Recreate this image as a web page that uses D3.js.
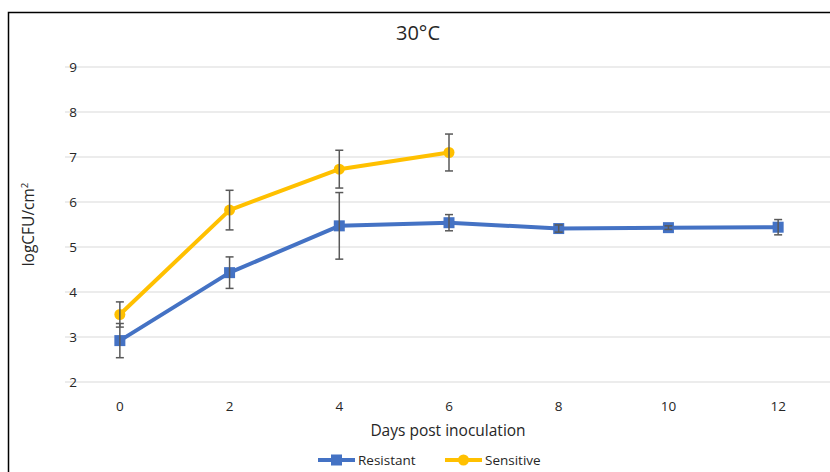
<!DOCTYPE html>
<html>
<head>
<meta charset="utf-8">
<script src="https://cdn.jsdelivr.net/npm/d3@7"></script>
<style>
  body { margin: 0; background: #fff; }
  text { font-family: "Open Sans", "Noto Sans", sans-serif; fill: #262626; }
</style>
</head>
<body>
<div id="chart"></div>
<script>
// days on the x axis
const days = [0, 2, 4, 6, 8, 10, 12]
const yTicks = [2, 3, 4, 5, 6, 7, 8, 9]

const resistantMean = [2.92, 4.43, 5.47, 5.54, 5.41, 5.43, 5.44]
const resistantErr = [0.38, 0.35, 0.74, 0.18, 0.08, 0.04, 0.17]
const sensitiveMean = [3.5, 5.82, 6.73, 7.1]
const sensitiveErr = [0.28, 0.44, 0.42, 0.41]

const width = 830
const height = 472
const margin = { top: 67, right: -3, bottom: 90, left: 65 }

const svg = d3.select('#chart').append('svg')
  .attr('width', width)
  .attr('height', height)

// outer frame (only left and top are inside the picture)
svg.append('rect')
  .attr('x', 8.5).attr('y', 12.5)
  .attr('width', width + 20).attr('height', height + 20)
  .attr('fill', 'none')
  .attr('stroke', '#000')
  .attr('stroke-width', 1.5)

const x = d3.scaleBand()
  .domain(days)
  .range([margin.left, width - margin.right])

const y = d3.scaleLinear()
  .domain([2, 9])
  .range([height - margin.bottom, margin.top])

const cx = (d) => x(d) + x.bandwidth() / 2

// grid
svg.append('g')
  .selectAll('line')
  .data(yTicks)
  .join('line')
  .attr('x1', margin.left)
  .attr('x2', width - margin.right)
  .attr('y1', (d) => y(d))
  .attr('y2', (d) => y(d))
  .attr('stroke', '#d9d9d9')
  .attr('stroke-width', 1)

// y tick labels
svg.append('g')
  .selectAll('text')
  .data(yTicks)
  .join('text')
  .attr('x', 77)
  .attr('y', (d) => y(d))
  .attr('dy', '0.35em')
  .attr('text-anchor', 'end')
  .attr('font-size', 13.5)
  .attr('fill', '#595959')
  .text((d) => d)

// x tick labels
svg.append('g')
  .selectAll('text')
  .data(days)
  .join('text')
  .attr('x', (d) => cx(d))
  .attr('y', 411)
  .attr('text-anchor', 'middle')
  .attr('font-size', 13.5)
  .attr('fill', '#595959')
  .text((d) => d)

// titles
svg.append('text')
  .attr('x', 418).attr('y', 40)
  .attr('text-anchor', 'middle')
  .attr('font-size', 20)
  .text('30°C')

svg.append('text')
  .attr('x', 448).attr('y', 436)
  .attr('text-anchor', 'middle')
  .attr('font-size', 15.5)
  .text('Days post inoculation')

svg.append('text')
  .attr('transform', `translate(34 ${y(5.5)}) rotate(-90)`)
  .attr('text-anchor', 'middle')
  .attr('font-size', 15.5)
  .text('logCFU/cm')
  .append('tspan')
  .attr('dy', -6)
  .attr('font-size', 9.5)
  .text('2')

const series = [
  { name: 'Resistant', mean: resistantMean, err: resistantErr, color: '#4472c4', shape: 'square' },
  { name: 'Sensitive', mean: sensitiveMean, err: sensitiveErr, color: '#ffc000', shape: 'circle' },
]

const line = d3.line()
  .x((d) => cx(d.day))
  .y((d) => y(d.v))

series.forEach((s) => {
  const pts = s.mean.map((v, i) => ({ day: days[i], v: v, e: s.err[i] }))
  const g = svg.append('g')

  g.append('path')
    .datum(pts)
    .attr('d', line)
    .attr('fill', 'none')
    .attr('stroke', s.color)
    .attr('stroke-width', 4)
    .attr('stroke-linejoin', 'round')

  if (s.shape === 'square') {
    g.selectAll('rect')
      .data(pts)
      .join('rect')
      .attr('x', (d) => cx(d.day) - 5.5)
      .attr('y', (d) => y(d.v) - 5.5)
      .attr('width', 11)
      .attr('height', 11)
      .attr('fill', s.color)
  } else {
    g.selectAll('circle')
      .data(pts)
      .join('circle')
      .attr('cx', (d) => cx(d.day))
      .attr('cy', (d) => y(d.v))
      .attr('r', 5.5)
      .attr('fill', s.color)
  }

  // error bars
  const eb = g.selectAll('g.err')
    .data(pts)
    .join('g')
    .attr('class', 'err')
    .attr('stroke', '#595959')
    .attr('stroke-width', 1.5)
  eb.append('line')
    .attr('x1', (d) => cx(d.day)).attr('x2', (d) => cx(d.day))
    .attr('y1', (d) => y(d.v + d.e)).attr('y2', (d) => y(d.v - d.e))
  eb.append('line')
    .attr('x1', (d) => cx(d.day) - 4).attr('x2', (d) => cx(d.day) + 4)
    .attr('y1', (d) => y(d.v + d.e)).attr('y2', (d) => y(d.v + d.e))
  eb.append('line')
    .attr('x1', (d) => cx(d.day) - 4).attr('x2', (d) => cx(d.day) + 4)
    .attr('y1', (d) => y(d.v - d.e)).attr('y2', (d) => y(d.v - d.e))
})

// legend
const legend = svg.append('g').attr('transform', 'translate(318 460)')
series.forEach((s, i) => {
  const lg = legend.append('g').attr('transform', `translate(${i * 127} 0)`)
  lg.append('line')
    .attr('x1', 0).attr('x2', 37)
    .attr('stroke', s.color)
    .attr('stroke-width', 4)
  if (s.shape === 'square') {
    lg.append('rect').attr('x', 13).attr('y', -5.5).attr('width', 11).attr('height', 11).attr('fill', s.color)
  } else {
    lg.append('circle').attr('cx', 18.5).attr('r', 5.5).attr('fill', s.color)
  }
  lg.append('text')
    .attr('x', 40)
    .attr('dy', '0.35em')
    .attr('font-size', 13.5)
    .attr('fill', '#595959')
    .text(s.name)
})
</script>
</body>
</html>
